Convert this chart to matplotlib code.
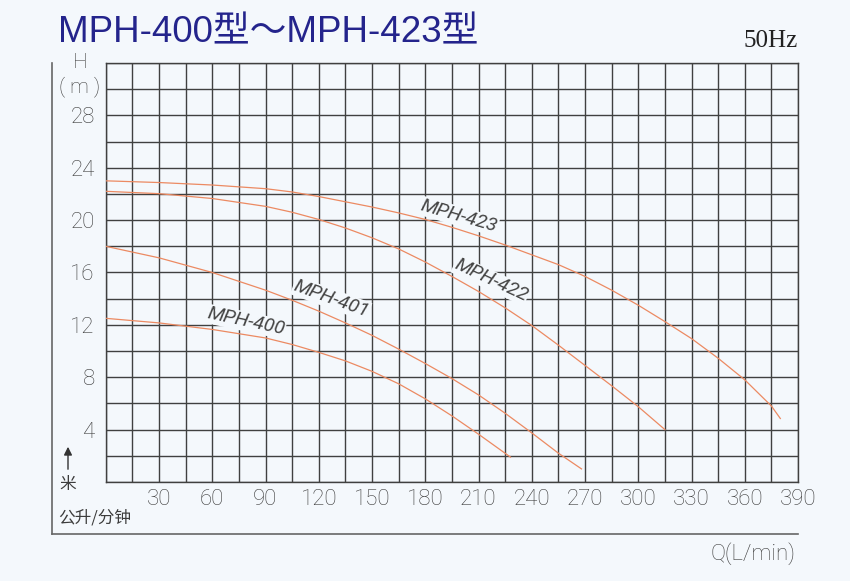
import numpy as np
import matplotlib
matplotlib.use("Agg")
import matplotlib.pyplot as plt
from matplotlib.lines import Line2D

# 曲線データ（Q: L/min, H: m）
q_400 = [0, 30, 60, 90, 105, 120, 135, 150, 165, 180, 195, 210, 228]
h_400 = [12.5, 12.15, 11.65, 11.0, 10.5, 9.9, 9.25, 8.45, 7.5, 6.35, 5.05, 3.65, 1.9]

q_401 = [0, 30, 60, 90, 105, 120, 135, 150, 165, 180, 195, 210, 225, 240, 255, 268]
h_401 = [18.0, 17.12, 16.0, 14.65, 13.88, 13.05, 12.15, 11.2, 10.15, 9.05, 7.9, 6.65, 5.25, 3.75, 2.2, 1.0]

q_422 = [0, 30, 60, 90, 105, 120, 135, 150, 165, 180, 195, 210, 225, 240, 255, 270, 285, 300, 315]
h_422 = [22.2, 22.02, 21.65, 21.05, 20.6, 20.05, 19.4, 18.65, 17.8, 16.8, 15.7, 14.55, 13.3, 11.95, 10.45, 8.9, 7.35, 5.75, 4.0]

q_423 = [0, 30, 60, 90, 105, 120, 150, 165, 180, 195, 210, 225, 240, 255, 270, 285, 300, 315, 330, 345, 360, 375, 380]
h_423 = [23.0, 22.87, 22.68, 22.4, 22.15, 21.8, 21.0, 20.55, 20.05, 19.45, 18.8, 18.1, 17.35, 16.6, 15.7, 14.65, 13.5, 12.25, 10.95, 9.45, 7.8, 5.8, 4.85]

# ラベル（名前, Q, H, 角度）
labels = ["MPH-400", "MPH-401", "MPH-423", "MPH-422"]
label_q = [79, 127, 199, 217]
label_h = [12.25, 14.0, 20.3, 15.4]
label_rot = [-12, -20, -16, -25]

x_ticks = np.arange(0, 391, 15)
y_ticks = np.arange(0, 33, 2)

bg = "#f4f8fc"
grid_c = "#404040"
curve_c = "#ec8a62"
txt_c = "#3c3c3c"
thin = ["Roboto", "DejaVu Sans"]

fig = plt.figure(figsize=(8.5, 5.81), dpi=100, facecolor=bg)
ax = fig.add_axes([0.1244, 0.1704, 0.8145, 0.7212], facecolor=bg)

for q, h in [(q_400, h_400), (q_401, h_401), (q_422, h_422), (q_423, h_423)]:
    ax.plot(q, h, color=curve_c, lw=0.9, zorder=3)

ax.set_xlim(0, 390)
ax.set_ylim(0, 32)
ax.set_xticks(x_ticks)
ax.set_yticks(y_ticks)
ax.set_xticklabels([str(v) if v % 30 == 0 and v > 0 else "" for v in x_ticks])
ax.set_yticklabels([str(v) if v % 4 == 0 and 0 < v < 32 else "" for v in y_ticks])
ax.tick_params(length=0, labelsize=16, labelcolor=txt_c)
ax.tick_params(axis="y", pad=8)
ax.tick_params(axis="x", pad=5)
for lab in ax.get_xticklabels() + ax.get_yticklabels():
    lab.set_family(thin)
    lab.set_fontweight("light")
ax.grid(True, color=grid_c, lw=1.0)
for s in ax.spines.values():
    s.set_color(grid_c)
    s.set_linewidth(1.0)

# 曲線ラベル
for name, q, h, r in zip(labels, label_q, label_h, label_rot):
    ax.text(q, h, name, rotation=r, ha="center", va="center", fontsize=14,
            color="#444444", family=thin, style="italic", zorder=4,
            bbox=dict(facecolor=bg, edgecolor="none", pad=0.5))

# 軸の単位
ytr = ax.get_yaxis_transform()
ax.text(-0.037, 32.05, "H", transform=ytr, ha="center", va="center",
        fontsize=15, color=txt_c, family=thin, fontweight="light", clip_on=False)
ax.text(-0.037, 30.2, "( m )", transform=ytr, ha="center", va="center",
        fontsize=15, color=txt_c, family=thin, fontweight="light", clip_on=False)

# 外枠の線
fig.add_artist(Line2D([0.0612, 0.0612], [0.8916, 0.0809], color="#666666", lw=1.2))
fig.add_artist(Line2D([0.0612, 0.9388], [0.0809, 0.0809], color="#666666", lw=1.2))

# 矢印と単位
ax.annotate("", xy=(0.080, 1 - 444 / 581), xytext=(0.080, 1 - 472 / 581),
            xycoords="figure fraction", textcoords="figure fraction",
            arrowprops=dict(arrowstyle="-|>", color="#333333", lw=1.0, mutation_scale=12))
cjk = ["Noto Sans CJK SC", "DejaVu Sans"]
fig.text(0.080, 1 - 484 / 581, "米", ha="center", va="center", fontsize=12,
         color=txt_c, family=cjk)
fig.text(0.111, 1 - 518 / 581, "公升/分钟", ha="center", va="center", fontsize=12,
         color=txt_c, family=cjk)
fig.text(0.936, 1 - 554 / 581, "Q(L/min)", ha="right", va="center", fontsize=16,
         color=txt_c, family=thin, fontweight="light")

# タイトル
fig.text(0.068, 1 - 42 / 581, "MPH-400型～MPH-423型", ha="left", va="baseline",
         fontsize=26.5, color="#24248c", family=["Liberation Sans", "Noto Sans CJK SC"])
fig.text(0.939, 1 - 41 / 581, "50Hz", ha="right", va="center", fontsize=18,
         color="#222222", family=["Liberation Serif", "DejaVu Serif"])

plt.savefig("out.png", dpi=100, facecolor=bg)
